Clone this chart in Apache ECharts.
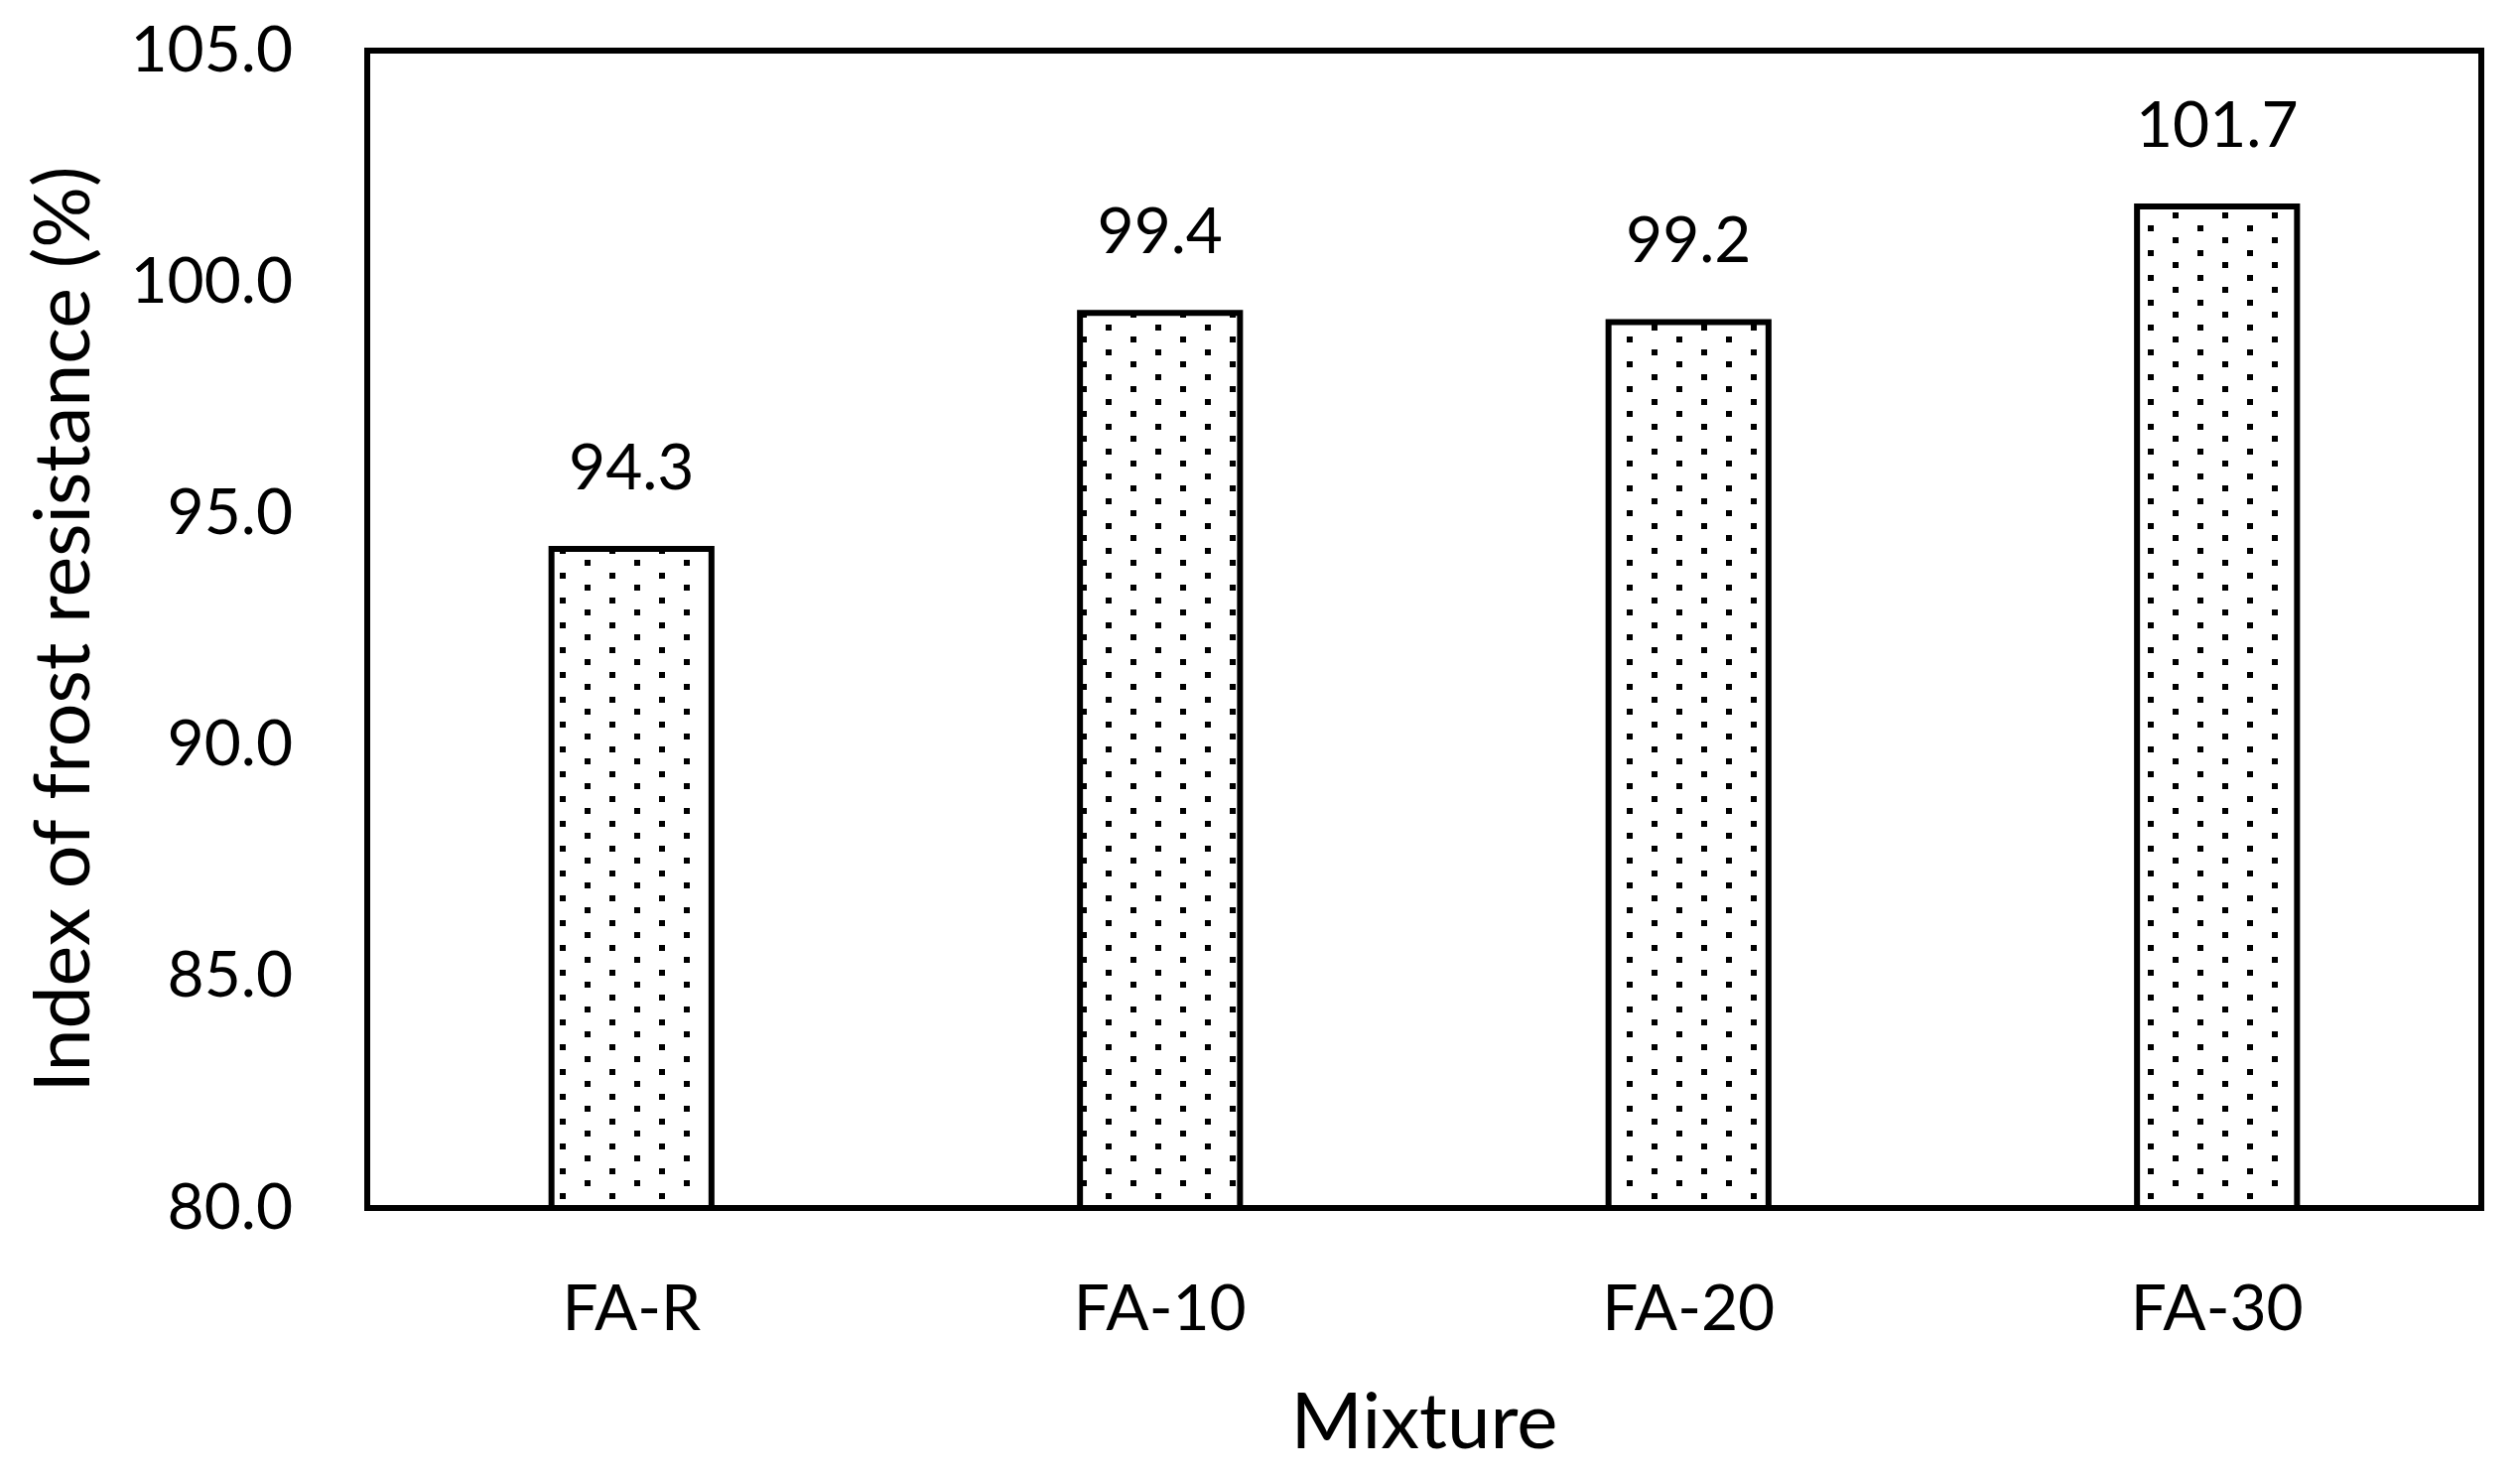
<!DOCTYPE html>
<html>
<head>
<meta charset="utf-8">
<script src="https://cdn.jsdelivr.net/npm/echarts@6/dist/echarts.min.js"></script>
<style>
  html, body { margin: 0; padding: 0; background: #fff; }
  #chart { width: 2539px; height: 1488px; }
</style>
</head>
<body>
<div id="chart"></div>
<script>
const categories = ['FA-R', 'FA-10', 'FA-20', 'FA-30'];
const frostIndex = [94.3, 99.4, 99.2, 101.7];
const yMin = 80, yMax = 105, yStep = 5;

// dotted fill pattern
const pat = document.createElement('canvas');
pat.width = 50; pat.height = 25;
const pctx = pat.getContext('2d');
pctx.fillStyle = '#fff';
pctx.fillRect(0, 0, 50, 25);
pctx.fillStyle = '#000';
pctx.fillRect(14, 2, 6, 6);
pctx.fillRect(39, 14, 6, 6);

const FONT = 'Lato, "Open Sans", sans-serif';
const chart = echarts.init(document.getElementById('chart'), null, { renderer: 'canvas' });
chart.setOption({
  backgroundColor: '#fff',
  animation: false,
  grid: {
    left: 370, right: 39, top: 51, bottom: 271,
    show: true, borderColor: '#000', borderWidth: 6, backgroundColor: 'transparent'
  },
  xAxis: {
    type: 'category',
    data: categories,
    name: 'Mixture',
    nameLocation: 'middle',
    nameGap: 178,
    nameTextStyle: { fontFamily: FONT, fontSize: 78, color: '#000' },
    axisLine: { show: true, lineStyle: { color: '#000', width: 6 } },
    axisTick: { show: false },
    axisLabel: { fontFamily: FONT, fontSize: 64, color: '#000', margin: 70 },
    splitLine: { show: false }
  },
  yAxis: {
    type: 'value',
    min: yMin, max: yMax, interval: yStep,
    name: 'Index of frost resistance (%)',
    nameLocation: 'middle',
    nameGap: 266,
    nameTextStyle: { fontFamily: FONT, fontSize: 77, color: '#000' },
    axisLine: { show: true, lineStyle: { color: '#000', width: 6 } },
    axisTick: { show: false },
    axisLabel: {
      fontFamily: FONT, fontSize: 64, color: '#000', margin: 75,
      formatter: v => v.toFixed(1)
    },
    splitLine: { show: false }
  },
  series: [{
    type: 'bar',
    data: frostIndex,
    barWidth: '31.4%',
    itemStyle: {
      color: { image: pat, repeat: 'repeat' },
      borderColor: '#000',
      borderWidth: 6
    },
    label: {
      show: true,
      position: 'top',
      distance: 46,
      fontFamily: FONT,
      fontSize: 64,
      color: '#000',
      formatter: p => p.value.toFixed(1)
    }
  }]
});
</script>
</body>
</html>
